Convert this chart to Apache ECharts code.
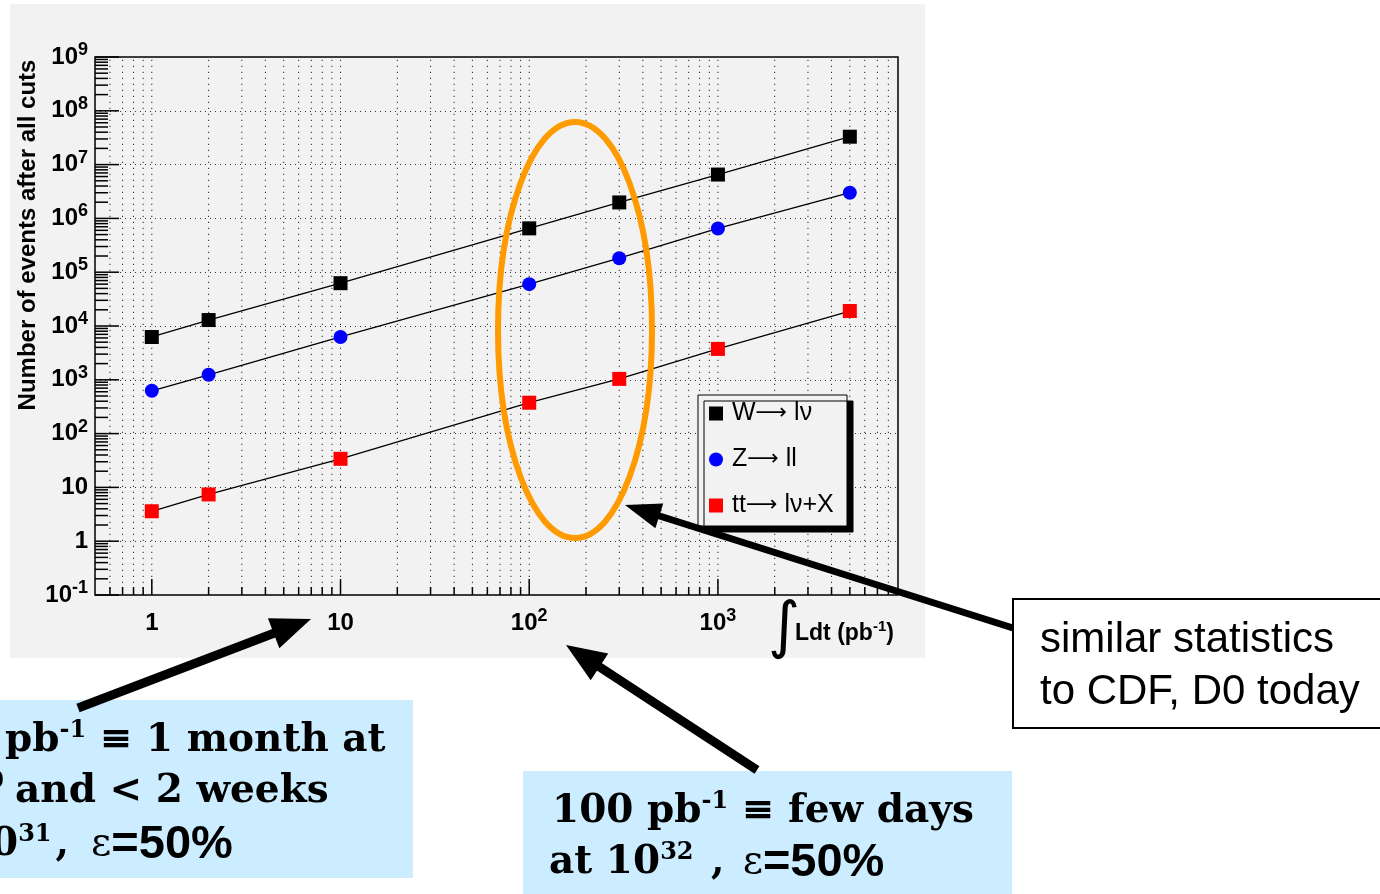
<!DOCTYPE html>
<html>
<head>
<meta charset="utf-8">
<script src="https://cdn.jsdelivr.net/npm/echarts@6/dist/echarts.min.js"></script>
<style>
html, body { margin: 0; padding: 0; background: #ffffff; }
#chart { width: 1380px; height: 894px; }
</style>
</head>
<body>
<div id="chart"></div>
<script>
// Integrated luminosity points (pb^-1)
const lumi = [1, 2, 10, 100, 300, 1000, 5000];
// Number of events after all cuts, per channel
const wToLnu = [6250, 12900, 62500, 653000, 1980000, 6530000, 33000000];
const zToLL = [625, 1240, 6250, 60000, 182000, 650000, 3000000];
const ttToLnuX = [3.6, 7.4, 34, 375, 1040, 3750, 19000];
const seriesNames = ['W\u2192 l\u03bd', 'Z\u2192 ll', 'tt\u2192 l\u03bd+X'];

// Axis ranges and tick layout
const xRange = [0.5, 9000];
const yRange = [0.1, 1e9];
const xDecades = [0.1, 1, 10, 100, 1000];
const yDecades = [0.1, 1, 10, 1e2, 1e3, 1e4, 1e5, 1e6, 1e7, 1e8, 1e9];
const tickSteps = [1, 2, 3, 4, 5, 6, 7, 8, 9];

const SANS = '"Liberation Sans", Arial, Helvetica, sans-serif';
const SERIF = '"DejaVu Serif", "Liberation Serif", serif';

function pair(xs, ys) { return xs.map((x, i) => [x, ys[i]]); }

// Tick values on each axis: [value, isMajor]
const xTicks = [];
xDecades.forEach(d => tickSteps.forEach(m => {
  const v = m * d;
  if (v > xRange[0] * 1.0001 && v < xRange[1] * 0.9999) xTicks.push([v, m === 1]);
}));
const yTicks = [];
yDecades.forEach(d => tickSteps.forEach(m => {
  const v = m * d;
  if (v >= yRange[0] * 0.9999 && v <= yRange[1] * 1.0001) yTicks.push([v, m === 1]);
}));

function powLabel(v) {
  const e = Math.log10(v);
  const k = Math.round(e);
  if (Math.abs(e - k) > 1e-6) return '';
  if (k === 0) return '{b|1}';
  if (k === 1) return '{b|10}';
  return '{b|10}{s|' + k + '}';
}

const labelRich = {
  b: { fontFamily: SANS, fontWeight: 'bold', fontSize: 24, lineHeight: 32, color: '#000' },
  s: { fontFamily: SANS, fontWeight: 'bold', fontSize: 18, lineHeight: 14, color: '#000', verticalAlign: 'top' }
};

// Thick annotation arrow: shaft plus triangular head
function arrow(x1, y1, x2, y2, w, headLen, headW) {
  const dx = x2 - x1, dy = y2 - y1, L = Math.hypot(dx, dy);
  const ux = dx / L, uy = dy / L, nx = -uy, ny = ux;
  const bx = x2 - ux * headLen, by = y2 - uy * headLen;
  return [
    { type: 'line', z: 30, silent: true,
      shape: { x1: x1, y1: y1, x2: bx + ux * 3, y2: by + uy * 3 },
      style: { stroke: '#000', lineWidth: w } },
    { type: 'polygon', z: 30, silent: true,
      shape: { points: [[x2, y2], [bx + nx * headW, by + ny * headW], [bx - nx * headW, by - ny * headW]] },
      style: { fill: '#000' } }
  ];
}

const boxRich = {
  t: { fontFamily: SERIF, fontWeight: 'bold', fontSize: 39, lineHeight: 44, color: '#000' },
  s: { fontFamily: SERIF, fontWeight: 'bold', fontSize: 24, lineHeight: 20, color: '#000', verticalAlign: 'top' },
  c: { fontFamily: SERIF, fontWeight: 'bold', fontSize: 39, lineHeight: 44, color: '#000', padding: [0, 22, 0, 4] },
  c2: { fontFamily: SERIF, fontWeight: 'bold', fontSize: 39, lineHeight: 44, color: '#000', padding: [0, 18, 0, 4] },
  e: { fontFamily: SERIF, fontWeight: 'normal', fontSize: 39, lineHeight: 44, color: '#000' },
  a: { fontFamily: SANS, fontWeight: 'bold', fontSize: 47, lineHeight: 44, color: '#000' }
};

function boxText(text, x, y, align) {
  return { type: 'text', z: 12, silent: true, x: x, y: y,
    style: { text: text, rich: boxRich, align: align, verticalAlign: 'middle',
             textAlign: align, textVerticalAlign: 'middle' } };
}

const graphics = [
  // ROOT canvas background
  { type: 'rect', z: -10, silent: true, shape: { x: 10, y: 4, width: 915, height: 654 }, style: { fill: '#f2f2f2' } },
  // Y-axis title
  { type: 'text', z: 5, silent: true, x: 28, y: 235, rotation: Math.PI / 2,
    style: { text: 'Number of events after all cuts', font: 'bold 24px ' + SANS, fill: '#000',
             align: 'center', verticalAlign: 'middle', textAlign: 'center', textVerticalAlign: 'middle' } },
  // X-axis title
  { type: 'text', z: 5, silent: true, x: 784, y: 630,
    style: { text: '\u222b', font: '62px "DejaVu Sans", sans-serif', fill: '#000',
             align: 'center', verticalAlign: 'middle', textAlign: 'center', textVerticalAlign: 'middle' } },
  { type: 'text', z: 5, silent: true, x: 795, y: 634,
    style: { text: '{b|Ldt (pb}{s|-1}{b|)}',
             rich: {
               b: { fontFamily: SANS, fontWeight: 'bold', fontSize: 23, lineHeight: 30, color: '#000' },
               s: { fontFamily: SANS, fontWeight: 'bold', fontSize: 15, lineHeight: 13, color: '#000', verticalAlign: 'top' }
             },
             align: 'left', verticalAlign: 'middle', textAlign: 'left', textVerticalAlign: 'middle' } },
  // Legend frame with solid drop shadow
  { type: 'rect', z: 8, silent: true, shape: { x: 698, y: 395, width: 149, height: 131 },
    style: { fill: '#f2f2f2', stroke: '#000', lineWidth: 1,
             shadowColor: '#000', shadowBlur: 0, shadowOffsetX: 6, shadowOffsetY: 6 } },
  // Highlight ellipse around 100-300 pb^-1
  { type: 'ellipse', z: 25, silent: true, shape: { cx: 575, cy: 330, rx: 77, ry: 208 },
    style: { fill: 'none', stroke: '#ff9a00', lineWidth: 6 } },
  // Annotation boxes
  { type: 'rect', z: 10, silent: true, shape: { x: -2, y: 700, width: 415, height: 178 }, style: { fill: '#ccecff' } },
  { type: 'rect', z: 10, silent: true, shape: { x: 523, y: 771, width: 489, height: 130 }, style: { fill: '#ccecff' } },
  { type: 'rect', z: 10, silent: true, shape: { x: 1013, y: 599, width: 380, height: 129 },
    style: { fill: '#ffffff', stroke: '#000', lineWidth: 2 } },
  // Left box text
  boxText('{t|10 }', 5, 741, 'right'),
  boxText('{t|pb}{s|-1}{t| \u2261 1 month at}', 5, 741, 'left'),
  boxText('{t|10}{s|30}', 4, 792, 'right'),
  boxText('{t|and < 2 weeks}', 15, 792, 'left'),
  boxText('{t|at 1}', -9, 845, 'right'),
  boxText('{t|0}{s|31}{c|,}{e|\u03b5}{a|=50%}', -9, 845, 'left'),
  // Right blue box text
  boxText('{t|100 pb}{s|-1}{t| \u2261 few days}', 552, 812, 'left'),
  boxText('{t|at 10}{s|32}{t| }{c2|,}{e|\u03b5}{a|=50%}', 549, 863, 'left'),
  // White box text
  { type: 'text', z: 12, silent: true, x: 1040, y: 640,
    style: { text: 'similar statistics', font: '42px ' + SANS, fill: '#000',
             align: 'left', verticalAlign: 'middle', textAlign: 'left', textVerticalAlign: 'middle' } },
  { type: 'text', z: 12, silent: true, x: 1040, y: 692,
    style: { text: 'to CDF, D0 today', font: '42px ' + SANS, fill: '#000',
             align: 'left', verticalAlign: 'middle', textAlign: 'left', textVerticalAlign: 'middle' } }
].concat(
  arrow(78, 708, 311, 619, 9, 40, 16),
  arrow(757, 770, 566, 645, 9, 40, 16),
  arrow(1013, 628, 625, 505, 7, 36, 13)
);

function channelSeries(name, values, symbol, color) {
  return {
    type: 'line', name: name, data: pair(lumi, values), z: 4,
    symbol: symbol, symbolSize: 14, showSymbol: true,
    itemStyle: { color: color, borderWidth: 0 },
    lineStyle: { color: '#000', width: 1.3 },
    emphasis: { disabled: true }, silent: true, animation: false
  };
}

const option = {
  animation: false,
  backgroundColor: '#ffffff',
  grid: { left: 95, top: 57, width: 803, height: 538, show: true,
          borderColor: '#000', borderWidth: 1.5, backgroundColor: 'transparent' },
  xAxis: {
    type: 'log', logBase: 10, min: xRange[0], max: xRange[1], splitNumber: 5,
    axisLine: { show: false }, axisTick: { show: false }, splitLine: { show: false },
    axisLabel: { margin: 12, formatter: powLabel, rich: labelRich }
  },
  yAxis: {
    type: 'log', logBase: 10, min: yRange[0], max: yRange[1], splitNumber: 10,
    axisLine: { show: false }, axisTick: { show: false },
    splitLine: { show: true, lineStyle: { color: '#333', width: 1, type: [1, 4] } },
    axisLabel: { margin: 7, formatter: powLabel, rich: labelRich }
  },
  legend: {
    data: [
      { name: seriesNames[0], icon: 'rect' },
      { name: seriesNames[1], icon: 'circle' },
      { name: seriesNames[2], icon: 'rect' }
    ],
    orient: 'vertical', left: 709, top: 401, padding: 0, itemGap: 21,
    itemWidth: 14, itemHeight: 14, selectedMode: false, z: 20,
    formatter: function (name) {
      const parts = name.split('\u2192');
      return '{a|' + parts[0] + '}{r|\u27f6}{a|' + parts[1] + '}';
    },
    textStyle: {
      fontFamily: SANS, fontSize: 25, color: '#000', padding: [0, 0, 0, 4],
      rich: {
        a: { fontFamily: SANS, fontSize: 25, color: '#000', lineHeight: 27 },
        r: { fontFamily: '"DejaVu Sans", sans-serif', fontSize: 22, color: '#000', lineHeight: 27 }
      }
    }
  },
  graphic: graphics,
  series: [
    // Vertical dotted grid at every decade and sub-decade step
    {
      type: 'custom', z: 1, silent: true, clip: false,
      data: xTicks.map(t => [t[0], yRange[0]]),
      renderItem: function (params, api) {
        const p0 = api.coord([api.value(0), yRange[0]]);
        const p1 = api.coord([api.value(0), yRange[1]]);
        return { type: 'line', shape: { x1: p0[0], y1: p0[1], x2: p1[0], y2: p1[1] },
                 style: { stroke: '#222', lineWidth: 1, lineDash: [1.2, 4.8] } };
      }
    },
    // X-axis ticks, drawn inward from the bottom frame
    {
      type: 'custom', z: 3, silent: true, clip: false,
      data: xTicks.map(t => [t[0], yRange[0], t[1] ? 16 : 8]),
      renderItem: function (params, api) {
        const p = api.coord([api.value(0), yRange[0]]);
        const len = api.value(2);
        return { type: 'line', shape: { x1: p[0], y1: p[1], x2: p[0], y2: p[1] - len },
                 style: { stroke: '#000', lineWidth: 1.5 } };
      }
    },
    // Y-axis ticks, drawn inward from the left frame
    {
      type: 'custom', z: 3, silent: true, clip: false,
      data: yTicks.map(t => [xRange[0], t[0], t[1] ? 24 : 13]),
      renderItem: function (params, api) {
        const p = api.coord([xRange[0], api.value(1)]);
        const len = api.value(2);
        return { type: 'line', shape: { x1: p[0], y1: p[1], x2: p[0] + len, y2: p[1] },
                 style: { stroke: '#000', lineWidth: 1.5 } };
      }
    },
    channelSeries(seriesNames[0], wToLnu, 'rect', '#000000'),
    channelSeries(seriesNames[1], zToLL, 'circle', '#0000ff'),
    channelSeries(seriesNames[2], ttToLnuX, 'rect', '#ff0000')
  ]
};

const chart = echarts.init(document.getElementById('chart'), null, { renderer: 'canvas' });
chart.setOption(option);
</script>
</body>
</html>
